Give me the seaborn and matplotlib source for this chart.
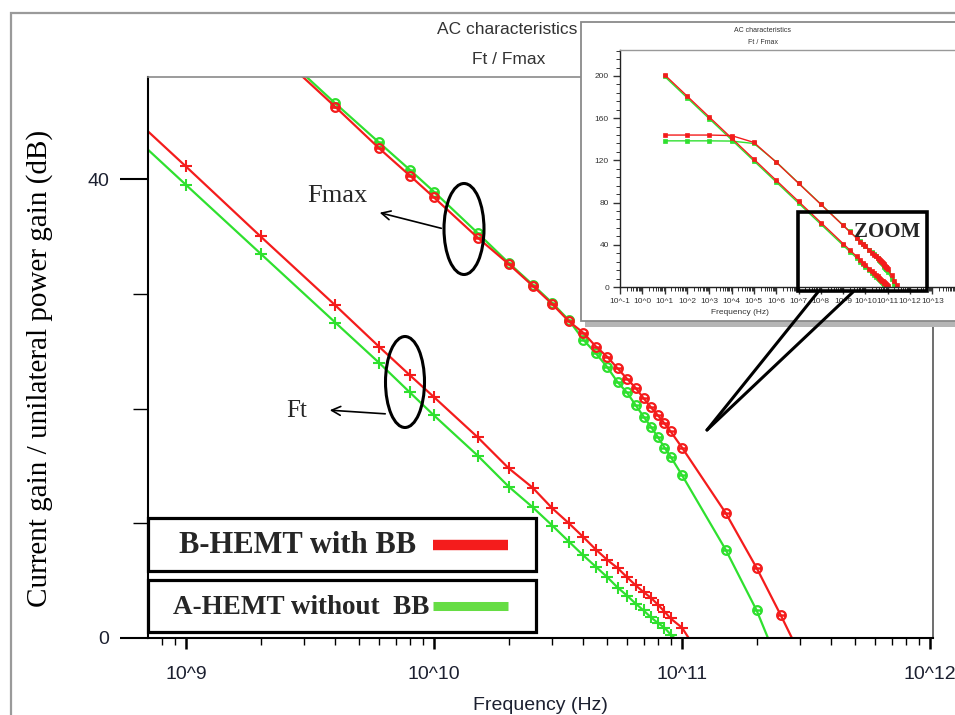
import numpy as np
import matplotlib
matplotlib.use("Agg")
import matplotlib.pyplot as plt
import seaborn as sns
from matplotlib.ticker import LogLocator, FuncFormatter, NullFormatter, MultipleLocator
from matplotlib.patches import Rectangle, Ellipse, FancyArrowPatch
from matplotlib.lines import Line2D

# simulated frequency points (Hz)
freq = [1e1, 1e2, 1e3, 1e4, 1e5, 1e6, 1e7, 1e8,
        1e9, 2e9, 4e9, 6e9, 8e9,
        1e10, 1.5e10, 2e10, 2.5e10, 3e10, 3.5e10, 4e10, 4.5e10, 5e10, 5.5e10,
        6e10, 6.5e10, 7e10, 7.5e10, 8e10, 8.5e10, 9e10,
        1e11, 1.5e11, 2e11, 2.5e11, 3e11]

# current gain h21 (dB)
ft_b = [201.1, 181.1, 161.1, 141.1, 121.1, 101.1, 81.1, 61.1,
        41.1, 35.0, 29.0, 25.4, 22.9,
        21.0, 17.5, 14.8, 13.1, 11.3, 10.0, 8.8, 7.7, 6.8, 6.1,
        5.3, 4.6, 4.0, 3.5, 2.9, 2.3, 1.7,
        0.9, -5.0, -7.5, -9.0, -10.5]
ft_a = [199.5, 179.5, 159.5, 139.5, 119.5, 99.5, 79.5, 59.5,
        39.5, 33.5, 27.5, 24.0, 21.4,
        19.4, 15.9, 13.2, 11.4, 9.8, 8.4, 7.2, 6.2, 5.3, 4.4,
        3.7, 3.0, 2.4, 1.8, 1.3, 0.9, 0.3,
        -0.6, -4.5, -7.0, -9.0, -10.5]

# unilateral power gain U (dB)
fmax_b = [144.0, 144.0, 144.0, 143.5, 137.0, 118.3, 98.3, 78.3,
          58.3, 52.3, 46.3, 42.7, 40.3,
          38.4, 34.9, 32.6, 30.7, 29.1, 27.6, 26.6, 25.4, 24.5, 23.5,
          22.6, 21.8, 20.9, 20.1, 19.4, 18.7, 18.0,
          16.6, 10.9, 6.1, 2.0, -1.5]
fmax_a = [138.5, 138.5, 138.5, 138.3, 136.0, 118.6, 98.6, 78.6,
          58.6, 52.6, 46.6, 43.2, 40.8,
          38.9, 35.3, 32.7, 30.8, 29.2, 27.7, 26.0, 24.8, 23.6, 22.3,
          21.4, 20.3, 19.3, 18.4, 17.5, 16.6, 15.8,
          14.2, 7.7, 2.4, -2.7, -6.0]

legend_labels = ["B-HEMT with BB", "A-HEMT without  BB"]

RED = "#f41c1c"
GREEN = "#2fe02f"
GREEN_LEG = "#66dd44"
TICKCOL = "#1c2030"
SERIF = "Liberation Serif"
SANS = "Liberation Sans"

W, H = 955, 715


def fx(x):
    return x / W


def fy(y):
    return 1 - y / H


def dec_fmt(v, pos):
    return f"10^{int(round(np.log10(v)))}"


sns.set_style("white")
plt.rcParams["font.family"] = [SANS, "DejaVu Sans"]

fig = plt.figure(figsize=(W / 100, H / 100), dpi=100)

# outer frame of the screenshot
fig.add_artist(Rectangle((fx(11), -0.05), 1.0, fy(13) + 0.05, transform=fig.transFigure,
                         fill=False, ec="#9a9a9a", lw=1.6, zorder=0.5))

# ---- main chart ----
ax = fig.add_axes([fx(148), fy(638), (933 - 148) / W, (638 - 77) / H], zorder=0)
ax.set_xscale("log")

sns.lineplot(x=freq, y=ft_a, ax=ax, color=GREEN, lw=1.6, marker="+", markersize=9,
             mec=GREEN, mew=1.5, sort=False, estimator=None)
sns.lineplot(x=freq, y=ft_b, ax=ax, color=RED, lw=1.6, marker="+", markersize=9,
             mec=RED, mew=1.5, sort=False, estimator=None)
sns.lineplot(x=freq, y=fmax_a, ax=ax, color=GREEN, lw=1.6, marker=r"$\ominus$", markersize=7,
             mec=GREEN, mfc=GREEN, mew=0.8, sort=False, estimator=None)
sns.lineplot(x=freq, y=fmax_b, ax=ax, color=RED, lw=1.6, marker=r"$\ominus$", markersize=7,
             mec=RED, mfc=RED, mew=0.8, sort=False, estimator=None)

ax.set_xlim(10 ** 8.847, 10 ** 12.012)
ax.set_ylim(0, 48.9)
ax.xaxis.set_major_locator(LogLocator(base=10, numticks=20))
ax.xaxis.set_minor_locator(LogLocator(base=10, subs=np.arange(2, 10), numticks=50))
ax.xaxis.set_major_formatter(FuncFormatter(dec_fmt))
ax.xaxis.set_minor_formatter(NullFormatter())
ax.set_yticks([0, 40])
ax.set_yticks([10, 20, 30], minor=True)
ax.tick_params(bottom=True, left=True, which="both", direction="out", color="black")
ax.tick_params(axis="x", which="major", length=8, width=1.8, pad=12,
               labelsize=14, labelcolor=TICKCOL)
ax.tick_params(axis="x", which="minor", length=5, width=1.0)
ax.tick_params(axis="y", which="major", length=20, width=1.5, pad=8,
               labelsize=14, labelcolor=TICKCOL)
ax.tick_params(axis="y", which="minor", length=11, width=1.0)
for side in ["left", "bottom"]:
    ax.spines[side].set_color("black")
    ax.spines[side].set_linewidth(1.5)
ax.spines["top"].set_color("#8a8a8a")
ax.spines["top"].set_linewidth(1.2)
ax.spines["right"].set_color("#555555")
ax.spines["right"].set_linewidth(1.2)
ax.set_xlabel("")
ax.set_ylabel("")

fig.text(fx(540), fy(705), "Frequency (Hz)", ha="center", va="center",
         fontsize=14, color=TICKCOL)
fig.text(fx(40), fy(368), "Current gain / unilateral power gain (dB)", rotation=90,
         ha="center", va="center", fontsize=21, family=SERIF, color="black")
fig.text(fx(507), fy(30), "AC characteristics", ha="center", va="center",
         fontsize=12.5, color="#333333")
fig.text(fx(509), fy(60), "Ft / Fmax", ha="center", va="center",
         fontsize=12.5, color="#333333")

# annotations
fig.add_artist(Ellipse((fx(464), fy(229)), 40 / W, 91 / H, transform=fig.transFigure,
                       fill=False, ec="black", lw=2.2, zorder=3))
fig.add_artist(Ellipse((fx(405), fy(382)), 39 / W, 91 / H, transform=fig.transFigure,
                       fill=False, ec="black", lw=2.2, zorder=3))
fig.add_artist(FancyArrowPatch((fx(444), fy(229)), (fx(377), fy(212)),
                               transform=fig.transFigure, arrowstyle="->",
                               mutation_scale=16, lw=1.2, color="black", zorder=3))
fig.add_artist(FancyArrowPatch((fx(388), fy(414)), (fx(327), fy(410)),
                               transform=fig.transFigure, arrowstyle="->",
                               mutation_scale=16, lw=1.2, color="black", zorder=3))
fig.text(fx(337), fy(196), "Fmax", ha="center", va="center", fontsize=19,
         family=SERIF, zorder=3)
fig.text(fx(297), fy(411), "Ft", ha="center", va="center", fontsize=18,
         family=SERIF, zorder=3)

# legend boxes
for (top, bot), label, col, fs, tx, lw in [((518, 571), legend_labels[0], RED, 22, 179, 7.5),
                                            ((580, 632), legend_labels[1], GREEN_LEG, 19.5, 173, 6.5)]:
    fig.add_artist(Rectangle((fx(148), fy(bot)), (536 - 148) / W, (bot - top) / H,
                             transform=fig.transFigure, fc="white", ec="black",
                             lw=2.3, zorder=3))
    yc = (top + bot) / 2
    fig.text(fx(tx), fy(yc + 1), label, ha="left", va="center", fontsize=fs,
             fontweight="bold", family=SERIF, zorder=4)
    fig.add_artist(Line2D([fx(433), fx(508)], [fy(yc), fy(yc)], transform=fig.transFigure,
                          color=col, lw=lw, solid_capstyle="butt", zorder=4))

# ---- inset (full frequency range) ----
fig.add_artist(Rectangle((fx(585), fy(327)), 1.0, (327 - 26) / H, transform=fig.transFigure,
                         fc="#b5b5b5", ec="none", zorder=1))
fig.add_artist(Rectangle((fx(581), fy(321)), 1.0, (321 - 22) / H, transform=fig.transFigure,
                         fc="white", ec="#8a8a8a", lw=1.3, zorder=1.1))

axi = fig.add_axes([fx(620), fy(287), (977 - 620) / W, (287 - 50) / H], zorder=2)
axi.set_xscale("log")
sns.lineplot(x=freq, y=ft_a, ax=axi, color=GREEN, lw=1.0, marker="s", markersize=2.6,
             mec=GREEN, mew=0.5, sort=False, estimator=None)
sns.lineplot(x=freq, y=fmax_a, ax=axi, color=GREEN, lw=1.0, marker="s", markersize=2.6,
             mec=GREEN, mew=0.5, sort=False, estimator=None)
sns.lineplot(x=freq, y=ft_b, ax=axi, color=RED, lw=1.0, marker="s", markersize=2.6,
             mec=RED, mew=0.5, sort=False, estimator=None)
sns.lineplot(x=freq, y=fmax_b, ax=axi, color=RED, lw=1.0, marker="s", markersize=2.6,
             mec=RED, mew=0.5, sort=False, estimator=None)
axi.set_xlim(1e-1, 1e15)
axi.set_ylim(0, 224.6)
axi.set_xticks([10.0 ** k for k in range(-1, 14)])
axi.xaxis.set_minor_locator(LogLocator(base=10, subs=np.arange(2, 10), numticks=100))
axi.xaxis.set_major_formatter(FuncFormatter(dec_fmt))
axi.xaxis.set_minor_formatter(NullFormatter())
axi.yaxis.set_major_locator(MultipleLocator(40))
axi.yaxis.set_minor_locator(MultipleLocator(8))
axi.tick_params(bottom=True, left=True, which="both", direction="out", color="#333333")
axi.tick_params(axis="both", which="major", length=5, width=1.0, pad=3,
                labelsize=6, labelcolor="#333333")
axi.tick_params(axis="both", which="minor", length=3, width=0.7)
axi.spines["left"].set_color("#222222")
axi.spines["bottom"].set_color("#222222")
axi.spines["top"].set_color("#999999")
axi.spines["right"].set_visible(False)
for s in axi.spines.values():
    s.set_linewidth(1.0)
axi.set_xlabel("")
axi.set_ylabel("")
fig.text(fx(740), fy(313), "Frequency (Hz)", ha="center", va="center", fontsize=6,
         color="#333333", zorder=3)
fig.text(fx(762), fy(30), "AC characteristics", ha="center", va="center", fontsize=5,
         color="#333333", zorder=3)
fig.text(fx(763), fy(43), "Ft / Fmax", ha="center", va="center", fontsize=5,
         color="#333333", zorder=3)

# zoom callout
fig.add_artist(Rectangle((fx(798), fy(291)), (927 - 798) / W, (291 - 212) / H,
                         transform=fig.transFigure, fill=False, ec="black", lw=2.6, zorder=5))
fig.text(fx(887), fy(232), "ZOOM", ha="center", va="center", fontsize=15,
         fontweight="bold", family=SERIF, zorder=5)
for x0 in (818, 853):
    fig.add_artist(Line2D([fx(x0), fx(707)], [fy(292), fy(430)], transform=fig.transFigure,
                          color="black", lw=2.2, zorder=5))

fig.savefig("out.png", dpi=100)
